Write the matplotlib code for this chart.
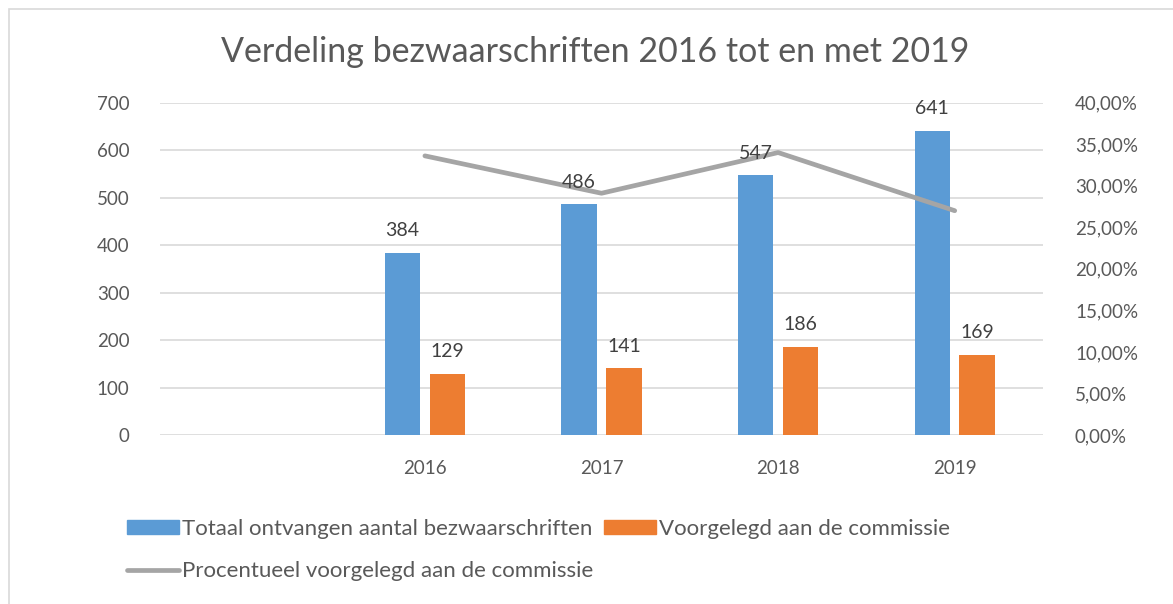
import matplotlib.pyplot as plt
import matplotlib.ticker as mticker
from matplotlib.patches import Rectangle
from matplotlib.lines import Line2D
from matplotlib.patches import Patch
import numpy as np

plt.rcParams['font.family'] = ['Lato', 'DejaVu Sans']

categories = ['', '2016', '2017', '2018', '2019']
totaal = [None, 384, 486, 547, 641]
voorgelegd = [None, 129, 141, 186, 169]
procent = [None, 0.336, 0.291, 0.340, 0.270]

blue = '#5b9bd5'
orange = '#ed7d31'
grey_line = '#a5a5a5'
txt = '#595959'

fig = plt.figure(figsize=(11.73, 6.04), dpi=100)
ax = fig.add_axes([160 / 1173, 1 - 435 / 604, 883 / 1173, (435 - 102.7) / 604])
ax2 = ax.twinx()

x = np.arange(len(categories))
w = 0.2
off = 0.127
for i in range(len(categories)):
    if totaal[i] is None:
        continue
    ax.bar(x[i] - off, totaal[i], w, color=blue, zorder=3)
    ax.bar(x[i] + off, voorgelegd[i], w, color=orange, zorder=3)
    # labels on ax2 so they sit above the line
    ax2.text(x[i] - off, totaal[i] + 28, str(totaal[i]), ha='center', va='bottom',
             fontsize=14, color='#404040', zorder=6, transform=ax.transData)
    ax2.text(x[i] + off, voorgelegd[i] + 28, str(voorgelegd[i]), ha='center', va='bottom',
             fontsize=14, color='#404040', zorder=6, transform=ax.transData)

xs = [x[i] for i in range(len(categories)) if procent[i] is not None]
ys = [p for p in procent if p is not None]
ax2.plot(xs, ys, color=grey_line, lw=3.4, solid_capstyle='round', zorder=4)

ax.set_xlim(-0.5, len(categories) - 0.5)
ax.set_ylim(0, 700)
ax.set_yticks(range(0, 701, 100))
ax2.set_ylim(0, 0.4)
ax2.set_yticks(np.arange(0, 0.41, 0.05))
ax2.yaxis.set_major_formatter(mticker.FuncFormatter(lambda v, p: ('%.2f%%' % (v * 100)).replace('.', ',')))

ax.set_xticks(x)
ax.set_xticklabels(categories)
ax.yaxis.grid(True, color='#d9d9d9', lw=1.2, zorder=0)
ax.set_axisbelow(True)
for a in (ax, ax2):
    for s in a.spines.values():
        s.set_visible(False)
ax.tick_params(axis='y', length=0, pad=22, labelsize=13.5, labelcolor=txt)
ax.tick_params(axis='x', length=0, pad=18, labelsize=13.5, labelcolor=txt)
ax2.tick_params(axis='y', length=0, pad=23, labelsize=13.5, labelcolor=txt)
ax.set_zorder(ax2.get_zorder() - 1)
ax.patch.set_visible(False)
ax2.patch.set_visible(False)

fig.text(595 / 1173, 1 - 52 / 604, 'Verdeling bezwaarschriften 2016 tot en met 2019',
         ha='center', va='center', fontsize=24.5, color=txt)

handles = [Patch(color=blue), Line2D([], [], color=grey_line, lw=3.4, solid_capstyle='round'),
           Patch(color=orange)]
labels = ['Totaal ontvangen aantal bezwaarschriften', 'Procentueel voorgelegd aan de commissie',
          'Voorgelegd aan de commissie']
leg = fig.legend(handles, labels, ncol=2, loc='upper left', bbox_to_anchor=(127 / 1173, 1 - 519 / 604),
                 frameon=False, fontsize=16, handlelength=2.35, handleheight=0.62, handletextpad=0.12,
                 columnspacing=0.5, labelspacing=1.0, borderaxespad=0, borderpad=0)
for t in leg.get_texts():
    t.set_color(txt)

fig.patches.append(Rectangle((9 / 1173, -0.1), 1.2, 1 - 9 / 604 + 0.1, transform=fig.transFigure,
                             fill=False, edgecolor='#d9d9d9', lw=1.2))

fig.savefig('out.png', dpi=100)
